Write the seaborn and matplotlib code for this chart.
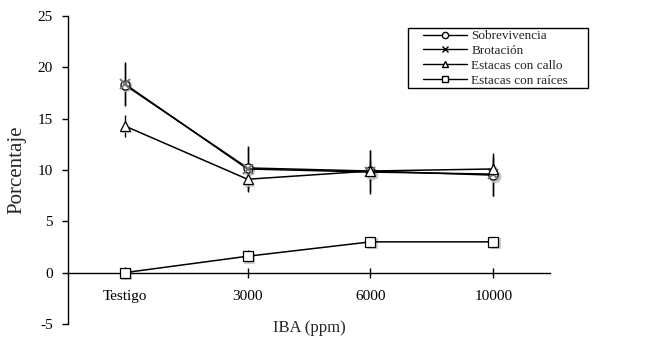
import matplotlib
matplotlib.use("Agg")
import matplotlib.pyplot as plt
from matplotlib.lines import Line2D
from matplotlib.patches import Rectangle
import matplotlib.transforms as mtransforms
import seaborn as sns
import pandas as pd

categories = ["Testigo", "3000", "6000", "10000"]
series_names = ["Sobrevivencia", "Brotación", "Estacas con callo", "Estacas con raíces"]
sobrevivencia = [18.3, 10.2, 9.9, 9.5]
brotacion = [18.4, 10.1, 9.8, 9.6]
callo = [14.3, 9.1, 9.9, 10.1]
raices = [0.0, 1.6, 3.0, 3.0]
err_sobrevivencia = [2.1, 2.0, 2.0, 2.0]
err_brotacion = [2.1, 2.2, 2.1, 2.1]
err_callo = [1.1, 1.1, 1.0, 1.0]
err_raices = [0.6, 0.6, 0.4, 0.4]
y_ticks = [-5, 0, 5, 10, 15, 20, 25]

values = [sobrevivencia, brotacion, callo, raices]
errors = [err_sobrevivencia, err_brotacion, err_callo, err_raices]
markers = ["o", "x", "^", "s"]

rows = []
for name, vals, errs in zip(series_names, values, errors):
    for i, (c, v, e) in enumerate(zip(categories, vals, errs)):
        rows.append({"serie": name, "pos": i, "cat": c, "valor": v, "err": e})
df = pd.DataFrame(rows)

sns.set_style("ticks")
plt.rcParams["font.family"] = ["Liberation Serif", "DejaVu Serif"]

fig = plt.figure(figsize=(6.62, 3.41), dpi=100)
ax = fig.add_axes([68/662, 1-324/341, (550-68)/662, (324-16)/341])

for name in series_names:
    sub = df[df["serie"] == name]
    ax.errorbar(sub["pos"], sub["valor"], yerr=sub["err"], fmt="none",
                ecolor="black", elinewidth=1.0, capsize=0, zorder=2)

shadow_tr = ax.transData + mtransforms.ScaledTranslation(1.5/100, -1.5/100, fig.dpi_scale_trans)
for name, m in zip(series_names, markers):
    sub = df[df["serie"] == name]
    sns.lineplot(data=sub, x="pos", y="valor", color="0.6", marker=m if m != "x" else "o",
                 markersize=7.5, linewidth=0, ax=ax, legend=False, errorbar=None,
                 markeredgecolor="0.75", markerfacecolor="0.75", alpha=0.7,
                 zorder=2.5, transform=shadow_tr)

for name, m in zip(series_names, markers):
    sub = df[df["serie"] == name]
    kw = dict(markerfacecolor="white", markeredgecolor="black", markeredgewidth=0.9)
    if m == "x":
        kw = dict(markeredgecolor="0.45", markeredgewidth=1.4)
    sns.lineplot(data=sub, x="pos", y="valor", color="black", marker=m,
                 markersize=6.5, linewidth=1.1, ax=ax, legend=False,
                 errorbar=None, zorder=3, **kw)

ax.set_xlim(-0.46, 3.46)
ax.set_ylim(-5, 25)
ax.set_xticks(range(len(categories)))
ax.set_xticklabels(categories)
ax.set_yticks(y_ticks)
ax.set_yticklabels([str(t) for t in y_ticks])

ax.spines["top"].set_visible(False)
ax.spines["right"].set_visible(False)
ax.spines["bottom"].set_position(("data", 0))
for s in ["left", "bottom"]:
    ax.spines[s].set_linewidth(1.0)
    ax.spines[s].set_color("black")

ax.tick_params(axis="x", direction="inout", length=7, width=1.0, pad=9, labelsize=11, colors="black")
ax.tick_params(axis="y", direction="out", length=4, width=1.0, pad=7, labelsize=11, colors="black")

ax.set_xlabel("IBA (ppm)", fontsize=12)
ax.xaxis.set_label_coords(0.5, -0.012)
ax.xaxis.label.set_va("center")
ax.set_ylabel("Porcentaje", fontsize=15)
ax.yaxis.set_label_coords(-0.086, 0.5)

handles = [Line2D([0], [0], color="black", lw=1.0, marker=m, markersize=4.5,
                  markerfacecolor="white", markeredgecolor="black", markeredgewidth=1.0)
           for m in markers]
leg = fig.legend(handles, series_names, loc="upper left",
                 bbox_to_anchor=(423/662, 1-30/341),
                 frameon=False, fontsize=9.5,
                 handlelength=3.3, handletextpad=0.35, labelspacing=0.2,
                 borderpad=0.0, borderaxespad=0)
fig.add_artist(Rectangle((408/662, 1-88/341), (588-408)/662, (88-28)/341,
                         transform=fig.transFigure, fill=False,
                         edgecolor="black", linewidth=1.0))

fig.savefig("out.png", dpi=100)
